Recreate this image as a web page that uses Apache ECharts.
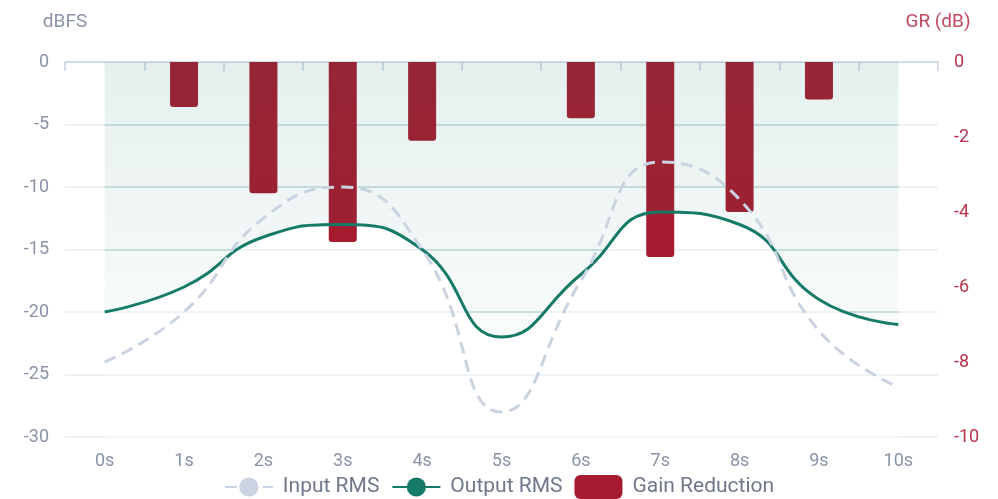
<!DOCTYPE html>
<html>
<head>
<meta charset="utf-8">
<script src="https://cdn.jsdelivr.net/npm/echarts@6/dist/echarts.min.js"></script>
<style>
html,body{margin:0;padding:0;background:#fff;}
#chart{width:998px;height:499px;}
</style>
</head>
<body>
<div id="chart"></div>
<script>
// ---- data ----
var categories = ['0s','1s','2s','3s','4s','5s','6s','7s','8s','9s','10s'];
var inputRms = [-24, -20, -12.5, -10, -15, -28, -17.5, -8, -11, -21.5, -26];
var outputRms = [-20, -18, -14, -13, -15, -22, -17, -12, -13, -19, -21];
var gainReduction = [0, -1.2, -3.5, -4.8, -2.1, 0, -1.5, -5.2, -4.0, -1.0, 0];
var dbfsGuides = [-5, -10, -15, -20, -25];

var FONT = 'Roboto';
var TEAL = '#167a69';

var chart = echarts.init(document.getElementById('chart'), null, {renderer:'canvas'});

var guideLines = dbfsGuides.map(function(v){
  return [{coord:[categories[0], v]}, {coord:[categories[categories.length-1], v]}];
});

chart.setOption({
  animation: false,
  textStyle: {fontFamily: FONT},
  grid: {left: 65, right: 60, top: 62, bottom: 62, containLabel: false},
  legend: {
    data: ['Input RMS','Output RMS','Gain Reduction'],
    top: 475,
    padding: 0,
    itemWidth: 48,
    itemHeight: 24,
    itemGap: 12,
    textStyle: {fontSize: 21, color: '#6f788b', fontFamily: FONT, padding: [0, 0, 0, 5]}
  },
  xAxis: [
    {
      type: 'category', data: categories, position: 'bottom', boundaryGap: true,
      axisLine: {show: false}, axisTick: {show: false}, splitLine: {show: false},
      axisLabel: {color: '#8a94a8', fontSize: 18, margin: 15, fontFamily: FONT}
    },
    {
      type: 'category', data: categories, position: 'top', boundaryGap: true,
      axisLine: {show: true, lineStyle: {color: '#c9d4e3', width: 1.5}},
      axisTick: {show: true, inside: true, length: 9, lineStyle: {color: '#c9d4e3', width: 1.5}},
      axisLabel: {show: false}, splitLine: {show: false}
    }
  ],
  yAxis: [
    {
      type: 'value', min: -30, max: 0, interval: 5, position: 'left',
      name: 'dBFS', nameLocation: 'end', nameGap: 30,
      nameTextStyle: {color: '#8a93a7', fontSize: 19, fontFamily: FONT},
      axisLine: {show: false}, axisTick: {show: false},
      axisLabel: {color: '#8a93a7', fontSize: 18, margin: 16, fontFamily: FONT},
      splitLine: {show: true, lineStyle: {color: '#e8edf4', width: 1.5}}
    },
    {
      type: 'value', min: -10, max: 0, interval: 2, position: 'right',
      name: 'GR (dB)', nameLocation: 'end', nameGap: 30,
      nameTextStyle: {color: '#c04a60', fontSize: 19, fontFamily: FONT},
      axisLine: {show: false}, axisTick: {show: false},
      axisLabel: {color: '#b8334d', fontSize: 18, margin: 16, fontFamily: FONT},
      splitLine: {show: false}
    }
  ],
  series: [
    {
      name: 'Input RMS', type: 'line', data: inputRms, smooth: true,
      xAxisIndex: 0, yAxisIndex: 0,
      symbol: 'circle', showSymbol: false, symbolSize: 8,
      itemStyle: {color: '#c9d3e1'},
      lineStyle: {color: '#c9d3e1', width: 3, type: [12, 7]},
      z: 5
    },
    {
      name: 'Output RMS', type: 'line', data: outputRms, smooth: true,
      xAxisIndex: 0, yAxisIndex: 0,
      symbol: 'circle', showSymbol: false, symbolSize: 8,
      itemStyle: {color: TEAL},
      lineStyle: {color: TEAL, width: 3},
      areaStyle: {
        origin: 'end',
        color: {type: 'linear', x: 0, y: 0, x2: 0, y2: 1, colorStops: [
          {offset: 0, color: 'rgba(22,122,105,0.16)'},
          {offset: 1, color: 'rgba(22,122,105,0.035)'}
        ]}
      },
      z: 4
    },
    {
      name: 'Gain Reduction', type: 'bar', data: gainReduction,
      xAxisIndex: 0, yAxisIndex: 1, barWidth: 28,
      itemStyle: {color: '#a61b2f', borderRadius: [0, 0, 3, 3]},
      z: 3
    },
    {
      name: 'mask', type: 'line', data: outputRms, smooth: true,
      xAxisIndex: 0, yAxisIndex: 0, silent: true,
      symbol: 'none', lineStyle: {width: 0, opacity: 0},
      areaStyle: {origin: 'start', color: '#ffffff', opacity: 0.62},
      z: 2,
      markLine: {
        silent: true, z: 1, symbol: 'none', label: {show: false},
        lineStyle: {color: '#c6dfdb', width: 1.5, type: 'solid'},
        data: guideLines
      }
    }
  ]
});
</script>
</body>
</html>
